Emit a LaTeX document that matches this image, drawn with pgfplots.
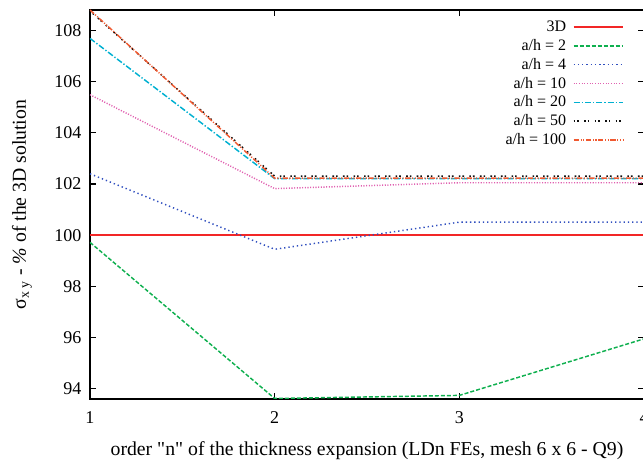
\documentclass[border=0pt]{standalone}
\usepackage{fontspec}
\setmainfont{Liberation Serif}[Ligatures=TeXOff]
\usepackage{pgfplots}
\pgfplotsset{compat=1.18}
\definecolor{colA}{rgb}{0.95,0.15,0.15}
\definecolor{colB}{rgb}{0.06,0.69,0.31}
\definecolor{colC}{rgb}{0.19,0.31,0.75}
\definecolor{colD}{rgb}{0.88,0.38,0.69}
\definecolor{colE}{rgb}{0.0,0.69,0.82}
\definecolor{colF}{rgb}{0.06,0.06,0.06}
\definecolor{colG}{rgb}{0.94,0.35,0.19}
\begin{document}
\begin{tikzpicture}
\begin{axis}[
  scale only axis, width=415.5pt, height=291.75pt,
  xmin=1, xmax=4, ymin=93.6, ymax=108.8,
  xtick={1,2,3,4}, ytick={94,96,...,108},
  tick align=inside, major tick length=4.5pt,
  axis line style={line width=1.3pt},
  tick style={black, line width=0.8pt},
  /pgf/number format/assume math mode=true,
  ticklabel style={font=\fontsize{13.5}{16}\selectfont},
  xticklabel style={yshift=-6pt},
  yticklabel style={xshift=-3pt},
  label style={font=\fontsize{14.8}{17}\selectfont},
  xlabel={order "n" of the thickness expansion (LDn FEs, mesh 6 x 6 - Q9)},
  ylabel={σ\textsubscript{x y} - \textit{\%} of the 3D solution},
  xlabel style={yshift=-6.5pt},
  ylabel style={yshift=10pt},
  legend plot pos=right,
  legend cell align=right,
  legend style={draw=none, fill=none, at={(1,1)}, anchor=north east,
    xshift=-12pt, yshift=-4pt,
    font=\fontsize{12}{14}\selectfont, row sep=0.3pt,
    nodes={inner xsep=5pt}},
  legend image code/.code={\draw[#1, line width=1.2pt] (0cm,0cm) -- (37pt,0cm);},
  every axis plot/.append style={line width=1.1pt},
]
\coordinate (A) at (rel axis cs:0,0);
\coordinate (B) at (rel axis cs:1,1);
\addplot[draw=colA, solid] coordinates {(1,100) (2,100) (3,100) (4,100)};
\addlegendentry{3D}
\addplot[draw=colB, dash pattern=on 3pt off 1.5pt] coordinates {(1,99.72) (2,93.62) (3,93.74) (4,95.95)};
\addlegendentry{a/h = 2}
\addplot[draw=colC, dash pattern=on 1pt off 2.2pt] coordinates {(1,102.4) (2,99.45) (3,100.51) (4,100.51)};
\addlegendentry{a/h = 4}
\addplot[draw=colD, dash pattern=on 0.8pt off 1.2pt] coordinates {(1,105.49) (2,101.82) (3,102.05) (4,102.05)};
\addlegendentry{a/h = 10}
\addplot[draw=colE, dash pattern=on 4.5pt off 1.5pt on 1pt off 1.5pt] coordinates {(1,107.69) (2,102.21) (3,102.21) (4,102.21)};
\addlegendentry{a/h = 20}
\addplot[draw=colF, dash pattern=on 1.2pt off 1.5pt on 1.2pt off 4pt] coordinates {(1,108.76) (2,102.31) (3,102.31) (4,102.31)};
\addlegendentry{a/h = 50}
\addplot[draw=colG, dash pattern=on 4pt off 1.2pt on 0.8pt off 1.2pt on 0.8pt off 1.2pt] coordinates {(1,108.8) (2,102.23) (3,102.23) (4,102.23)};
\addlegendentry{a/h = 100}
\end{axis}
\pgfresetboundingbox
\path ([shift={(-67.5pt,-47.25pt)}]A) rectangle ([shift={(-0.75pt,7.5pt)}]B);
\end{tikzpicture}
\end{document}
